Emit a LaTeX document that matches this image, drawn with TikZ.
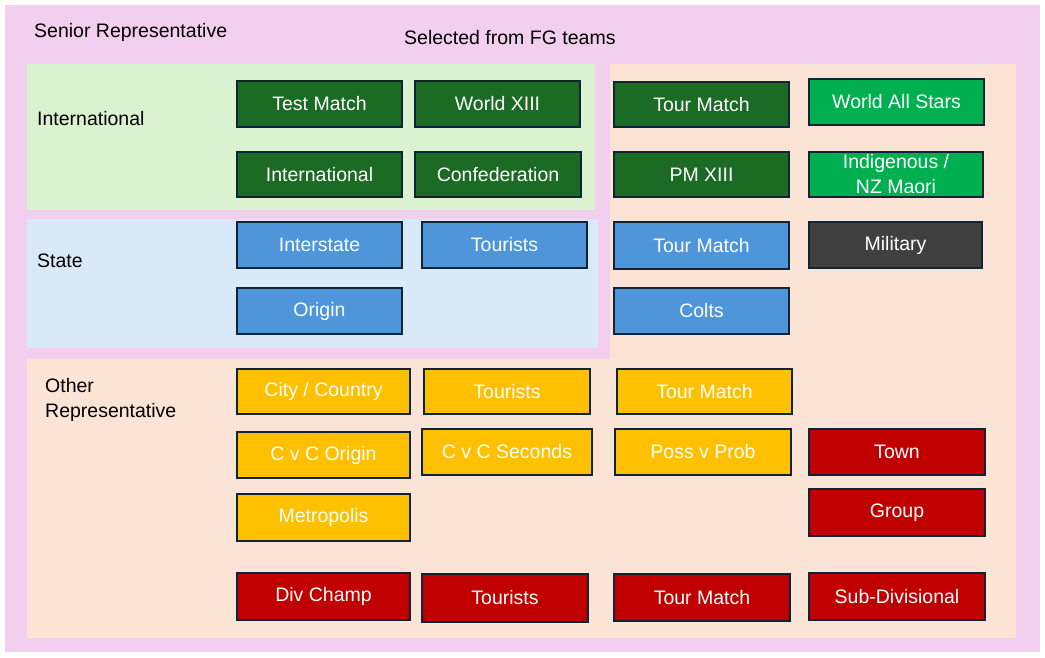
\documentclass[tikz,border=0pt]{standalone}
\usepackage{fontspec}
\setmainfont{Liberation Sans}
\definecolor{pinkbg}{HTML}{F2CFEE}
\definecolor{peachbg}{HTML}{FBE3D6}
\definecolor{greenbg}{HTML}{DAF2D0}
\definecolor{bluebg}{HTML}{DAE9F7}
\definecolor{dkgreen}{HTML}{1B6B24}
\definecolor{brgreen}{HTML}{00B050}
\definecolor{bluebox}{HTML}{4E95D9}
\definecolor{greybox}{HTML}{404040}
\definecolor{yellowbox}{HTML}{FFC000}
\definecolor{redbox}{HTML}{C00000}
\definecolor{bordercol}{HTML}{0F2437}
\tikzset{
  box/.style={draw=bordercol, line width=1.6pt, text=white, inner sep=0pt,
    font=\fontsize{19.5}{24}\selectfont, align=center},
  dg/.style={box, fill=dkgreen},
  bg/.style={box, fill=brgreen},
  bl/.style={box, fill=bluebox},
  gy/.style={box, fill=greybox},
  yl/.style={box, fill=yellowbox},
  rd/.style={box, fill=redbox},
  lbl/.style={anchor=west, inner sep=0pt, font=\fontsize{19.5}{25}\selectfont, align=left},
  area/.style={draw=none}
}
\newcommand{\tbox}[7]{%
  \node[#6, minimum width={(#4-#2)*1pt}, minimum height={(#5-#3)*1pt}]
    (#1) at ({(#2+#4)/2},{(#3+#5)/2}) {#7};}
\begin{document}
\begin{tikzpicture}[x=1pt,y=-1pt]
\useasboundingbox (0,0) rectangle (1045,658);
\fill[white] (0,0) rectangle (1045,658);
% backgrounds
\fill[pinkbg] (5,5) rectangle (1040,652);
\fill[peachbg] (27,64) rectangle (1016,638);
\fill[pinkbg] (27,64) rectangle (610,359);
\fill[greenbg] (27,64) rectangle (595,210);
\fill[bluebg] (27,219) rectangle (598,348);
% labels
\node[lbl] (senior) at (34,32) {Senior Representative};
\node[lbl] (selected) at (404,38) {Selected from FG teams};
\node[lbl] (intlbl) at (37,119) {International};
\node[lbl] (statelbl) at (37,261) {State};
\node[lbl] (otherlbl) at (45,399.5) {Other\\Representative};
% international
\tbox{testm}{237}{81}{402}{127}{dg}{Test Match}
\tbox{worldx}{415}{81}{580}{127}{dg}{World XIII}
\tbox{intl}{237}{152}{402}{197}{dg}{International}
\tbox{conf}{415}{152}{581}{197}{dg}{Confederation}
\tbox{tourA}{614}{82}{789}{127}{dg}{Tour Match}
\tbox{pmxiii}{614}{152}{789}{197}{dg}{PM XIII}
\tbox{allstars}{809}{79}{984}{125}{bg}{World All Stars}
\tbox{indig}{809}{152}{983}{197}{bg,font=\fontsize{19.5}{25}\selectfont}{Indigenous /\\NZ Maori}
% state
\tbox{interst}{237}{222}{402}{268}{bl}{Interstate}
\tbox{touristsA}{422}{222}{587}{268}{bl}{Tourists}
\tbox{origin}{237}{288}{402}{334}{bl}{Origin}
\tbox{tourB}{614}{222}{789}{269}{bl}{Tour Match}
\tbox{colts}{614}{288}{789}{334}{bl}{Colts}
\tbox{military}{809}{222}{982}{268}{gy}{Military}
% other representative
\tbox{citycountry}{237}{369}{410}{414}{yl}{City / Country}
\tbox{touristsB}{424}{369}{590}{414}{yl}{Tourists}
\tbox{tourC}{617}{369}{792}{414}{yl}{Tour Match}
\tbox{cvcorigin}{237}{432}{410}{478}{yl}{C v C Origin}
\tbox{cvcseconds}{422}{429}{592}{475}{yl}{C v C Seconds}
\tbox{possprob}{615}{429}{791}{475}{yl}{Poss v Prob}
\tbox{metro}{237}{494}{410}{541}{yl}{Metropolis}
\tbox{town}{809}{429}{985}{475}{rd}{Town}
\tbox{group}{809}{489}{985}{536}{rd}{Group}
\tbox{divchamp}{237}{573}{410}{620}{rd}{Div Champ}
\tbox{touristsC}{422}{574}{588}{622}{rd}{Tourists}
\tbox{tourD}{614}{574}{790}{621}{rd}{Tour Match}
\tbox{subdiv}{809}{573}{985}{620}{rd}{Sub-Divisional}
\end{tikzpicture}
\end{document}
